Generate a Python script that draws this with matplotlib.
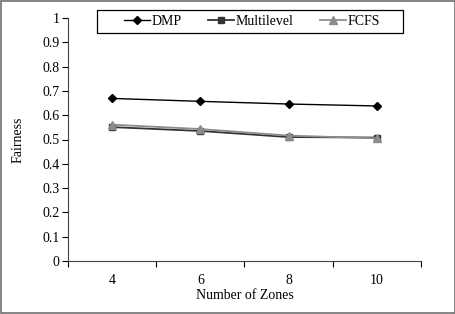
import matplotlib
matplotlib.use('Agg')
import matplotlib.pyplot as plt
from matplotlib.patches import Rectangle

zones = ['4', '6', '8', '10']
dmp = [0.669, 0.657, 0.646, 0.638]
multilevel = [0.551, 0.535, 0.510, 0.508]
fcfs = [0.561, 0.543, 0.516, 0.505]
y_ticks = [0, 0.1, 0.2, 0.3, 0.4, 0.5, 0.6, 0.7, 0.8, 0.9, 1]
y_labels = ['0', '0.1', '0.2', '0.3', '0.4', '0.5', '0.6', '0.7', '0.8', '0.9', '1']

plt.rcParams['font.family'] = ['Liberation Serif', 'DejaVu Serif']

fig = plt.figure(figsize=(4.56, 3.14), dpi=100)
ax = fig.add_axes([68 / 456, 1 - 261 / 314, (421 - 68) / 456, (261 - 18) / 314])

x = list(range(len(zones)))
ax.plot(x, dmp, color='black', marker='D', markersize=4, linewidth=1, label='DMP')
ax.plot(x, multilevel, color='#333333', marker='s', markersize=5, linewidth=1.3, label='Multilevel')
ax.plot(x, fcfs, color='#8c8c8c', marker='^', markersize=5.5, linewidth=1.3, label='FCFS')

ax.set_xlim(-0.5, len(zones) - 0.5)
ax.set_ylim(0, 1)
ax.set_yticks(y_ticks)
ax.set_yticklabels(y_labels, fontsize=10)

# Excel-style: ticks between categories, labels centered on categories
ax.set_xticks([i - 0.5 for i in range(len(zones) + 1)])
ax.set_xticklabels([])
ax.set_xticks(x, minor=True)
ax.set_xticklabels(zones, minor=True, fontsize=10)
ax.tick_params(axis='x', which='major', direction='out', length=4, width=0.8)
ax.tick_params(axis='x', which='minor', length=0, pad=9)
ax.tick_params(axis='y', direction='out', length=4, width=0.8, pad=2)

for side in ['top', 'right']:
    ax.spines[side].set_visible(False)
for side in ['left', 'bottom']:
    ax.spines[side].set_color('#444444')

ax.set_xlabel('Number of Zones', fontsize=10, labelpad=2)
ax.set_ylabel('Fairness', fontsize=10, labelpad=13)

# legend without its own frame, box drawn separately
fig.legend(loc='center', bbox_to_anchor=(252 / 456, 1 - 21.5 / 314), ncol=3,
           fontsize=10, frameon=False, handlelength=1.9,
           handletextpad=0.1, columnspacing=1.9)
fig.patches.append(Rectangle((97 / 456, 1 - 33 / 314), 306 / 456, 23 / 314,
                             transform=fig.transFigure, fill=False,
                             edgecolor='black', linewidth=0.9))

fig.patches.append(Rectangle((0.002, 0.003), 0.996, 0.994, transform=fig.transFigure,
                             fill=False, edgecolor='#707070', linewidth=1.2))

fig.savefig('out.png', dpi=100)
